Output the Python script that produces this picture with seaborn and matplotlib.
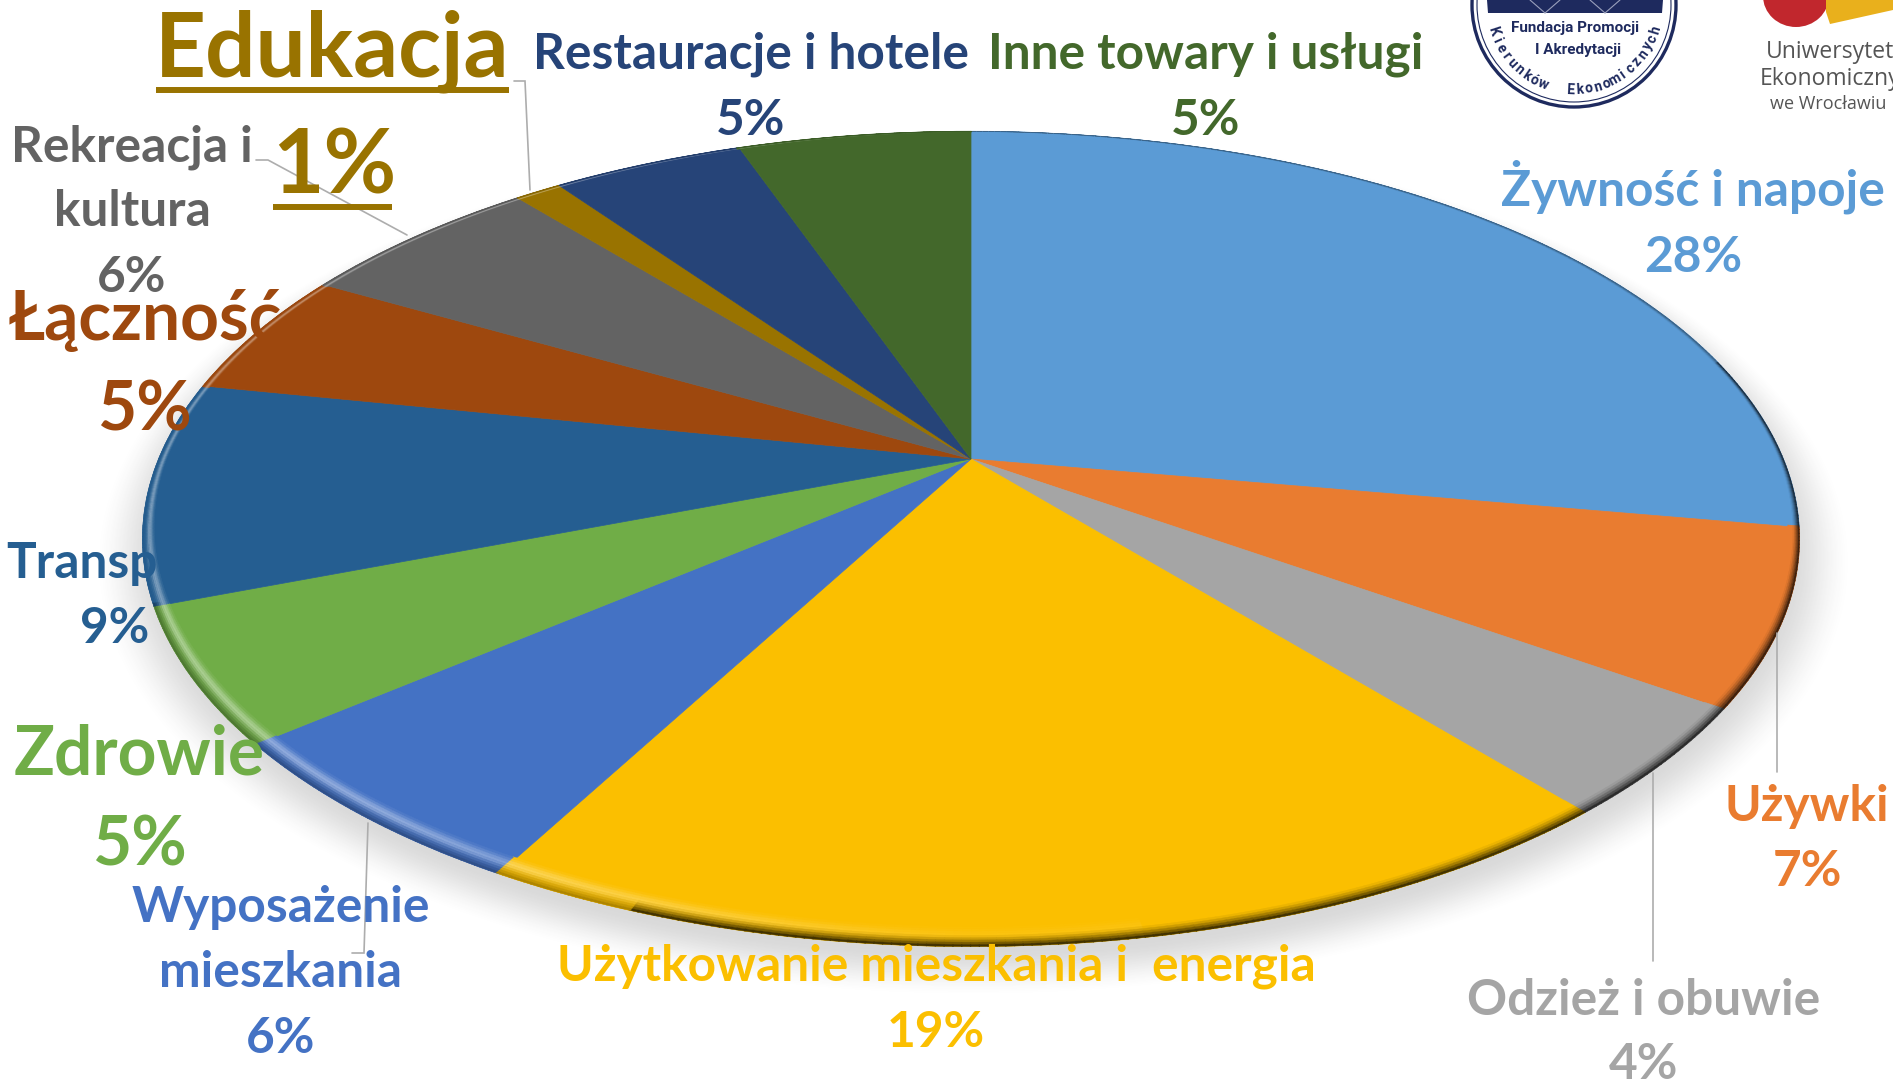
import numpy as np
import matplotlib
matplotlib.use("Agg")
import matplotlib.pyplot as plt
import matplotlib.transforms as mtransforms
from matplotlib.collections import PolyCollection
from matplotlib.patches import Circle, Polygon, Ellipse
import seaborn as sns

categories = ["Żywność i napoje", "Używki", "Odzież i obuwie", "Użytkowanie mieszkania i  energia",
              "Wyposażenie\nmieszkania", "Zdrowie", "Transport", "Łączność",
              "Rekreacja i\nkultura", "Edukacja", "Restauracje i hotele", "Inne towary i usługi"]
values = [27.7, 6.9, 4.3, 19.1, 6.0, 5.3, 8.8, 5.0, 5.8, 1.1, 4.51, 5.49]
colors = ["#5B9BD5", "#E97C30", "#A5A5A5", "#FBBF00", "#4472C4", "#70AD47",
          "#255E91", "#9E480E", "#636363", "#997300", "#264478", "#43682B"]
# Text centres per line, label then percentage, and size
label_lines = [
    [(1693, 188), (1693, 254)], [(1807, 803), (1807, 868)], [(1644, 997), (1644, 1061)],
    [(936, 963), (936, 1029)], [(281, 904), (281, 969), (281, 1035)], [(139, 750), (139, 841)],
    [(115, 560), (115, 625)], [(145, 316), (144, 406)], [(132, 144), (132, 208), (132, 274)],
    [(332, 44), (334, 161)], [(751, 51), (751, 117)], [(1206, 51), (1206, 117)],
]
label_sizes = [35.7, 35.7, 35.7, 35.7, 35.7, 48.7, 35.7, 48.7, 35.7, 64, 35.7, 35.7]

sns.set_theme(style="white")
plt.rcParams["font.family"] = ["Lato", "DejaVu Sans"]
palette = sns.color_palette(colors)

W, H = 1893, 1081
fig = plt.figure(figsize=(W / 100, H / 100), dpi=100, facecolor="white")
ax = fig.add_axes([0, 0, 1, 1])

CX, CY, A, B, K = 971.0, 459.0, 812.5, 392.0, 0.196


def project(u, v):
    d = 1 + K * v
    return CX + A * u / d, CY - B * v / d


class Perspective(mtransforms.Transform):
    input_dims = output_dims = 2

    def transform_non_affine(self, xy):
        xy = np.asarray(xy, float)
        x, y = project(xy[:, 0], xy[:, 1])
        return np.column_stack([x, y])


# Soft shadow under the disc
gx, gy = np.meshgrid(np.arange(0, W, 2.0), np.arange(0, H, 2.0))
tx = (gx - CX - 2) / A
ty = (CY + 14 - gy) / B
vv = ty / (1 - K * ty)
uu = tx * (1 + K * vv)
rr = np.hypot(uu, vv)
fade = np.clip((1.06 - rr) / 0.08, 0, 1)
fade = fade * fade * (3 - 2 * fade)
shadow = np.zeros(gx.shape + (4,))
shadow[..., :3] = 0.25
shadow[..., 3] = 0.2 * fade
ax.imshow(shadow, extent=(0, W, H, 0), aspect="auto", interpolation="bilinear", zorder=1)

wedges, _ = ax.pie(values, colors=palette, startangle=90, counterclock=False, radius=1.0,
                   center=(0, 0), normalize=True)
persp = Perspective() + ax.transData
for w, c in zip(wedges, palette):
    w.set_transform(persp)
    w.set_edgecolor(c)
    w.set_linewidth(0.5)
    w.set_zorder(2)
    w.set_clip_on(False)

# Bevelled rim of the disc
edges = np.cumsum(values) / np.sum(values) * 360
phis = np.linspace(0, 360, 721)
steps = 9
polys, cols = [], []
for p0, p1 in zip(phis[:-1], phis[1:]):
    mid = 0.5 * (p0 + p1)
    base = np.array(palette[min(np.searchsorted(edges, mid), len(values) - 1)])
    m = np.radians(mid)
    down = max(0.0, -np.cos(m))
    depth = 0.003 + 0.030 * down ** 1.2 + 0.007 * abs(np.sin(m))
    left = max(0.0, -np.sin(m))
    light = 0.4 * np.clip(left * 1.4 + 0.15 * down, 0, 1) if mid > 170 else 0.0
    if mid < 75:
        dark = 0.45
    elif mid < 200:
        dark = 0.85
    elif mid < 250:
        dark = 0.35
    elif mid < 300:
        dark = 0.04
    else:
        dark = 0.15
    for j in range(steps):
        s0, s1 = j / steps, (j + 1) / steps
        s = 0.5 * (s0 + s1)
        r0, r1 = 1 - depth * (1 - s0), 1 - depth * (1 - s1)
        a0, a1 = np.radians(p0), np.radians(p1 + 0.05)
        xa, ya = project(r0 * np.sin(a0), r0 * np.cos(a0))
        xb, yb = project(r0 * np.sin(a1), r0 * np.cos(a1))
        xc, yc = project(r1 * np.sin(a1), r1 * np.cos(a1))
        xd, yd = project(r1 * np.sin(a0), r1 * np.cos(a0))
        polys.append([(xa, ya), (xb, yb), (xc, yc), (xd, yd)])
        bump = np.exp(-((s - 0.4) / 0.25) ** 2)
        col = base + (1 - base) * light * bump
        col = col * (1 - dark * np.clip((s - 0.4) / 0.6, 0, 1) ** 1.5)
        cols.append(np.clip(col, 0, 1))
ax.add_collection(PolyCollection(polys, facecolors=cols, edgecolors=cols, linewidths=0.25, zorder=3))

# Leader lines
leader_col = "#ADADAD"
leaders = [
    [(514, 81), (525, 81), (530, 190)],
    [(256, 160), (268, 160), (407, 235)],
    [(368, 823), (364, 953), (352, 953)],
    [(1777, 633), (1777, 772)],
    [(1653, 773), (1653, 961)],
]
for pts in leaders:
    xs, ys = zip(*pts)
    ax.plot(xs, ys, color=leader_col, lw=1.2, zorder=4, solid_joinstyle="miter")

# Labels
for cat, val, col, pos, size in zip(categories, values, palette, label_lines, label_sizes):
    lines = cat.split("\n") + [f"{round(val)}%"]
    for line, (x, y) in zip(lines, pos):
        ax.text(x, y + size * 0.5, line, color=col, fontsize=size, fontweight="bold", ha="center",
                va="baseline", zorder=5, clip_on=False)

# Underlines of the highlighted slice
ax.plot([156, 509], [89.5, 89.5], color=palette[9], lw=4.3, solid_capstyle="butt", zorder=5)
ax.plot([273, 392], [207, 207], color=palette[9], lw=4.3, solid_capstyle="butt", zorder=5)

# Logo: accreditation foundation
navy = "#1E2A5E"
lc, ly, lr = 1574, 5, 102
ax.add_patch(Circle((lc, ly), lr, fc="white", ec=navy, lw=2.4, zorder=6))
ax.add_patch(Circle((lc, ly), lr - 5, fc="none", ec=navy, lw=0.8, zorder=6))
ax.add_patch(Polygon([(1487, 0), (1663, 0), (1662, 13), (1488, 13)], fc=navy, ec="none", zorder=6))
for x0, x1 in [(1530, 1545), (1560, 1545), (1590, 1605), (1620, 1605)]:
    ax.plot([x0, x1], [0, 13], color="#9AA0BC", lw=0.8, zorder=6)
ax.text(1575, 28, "Fundacja Promocji", color=navy, fontsize=11, fontweight="bold", ha="center",
        va="center", family="Roboto", zorder=7)
ax.text(1578, 50, "I Akredytacji", color=navy, fontsize=11, fontweight="bold", ha="center",
        va="center", family="Roboto", zorder=7)
ring_text = "Kierunków  Ekonomicznych"
ang = np.linspace(-72, 73, len(ring_text))
for ch, th in zip(ring_text, ang):
    t = np.radians(th)
    ax.text(lc + 85 * np.sin(t), ly + 85 * np.cos(t), ch, color=navy, fontsize=10,
            fontweight="bold", rotation=th, rotation_mode="anchor", ha="center", va="center",
            family="Roboto", zorder=7)

# Logo: university
ax.add_patch(Ellipse((1796, -4), 66, 62, fc="#C1272D", ec="none", zorder=6))
ax.add_patch(Polygon([(1826, 0), (1893, 0), (1893, 10), (1830, 24), (1826, 12)], fc="#E9B01C", ec="none", zorder=6))
for txt, x, y, fs in [("Uniwersytet", 1766, 52, 16.5), ("Ekonomiczny", 1760, 79, 16.5), ("we Wrocławiu", 1770, 104, 13)]:
    ax.text(x, y, txt, color="#555555", fontsize=fs, ha="left", va="center", family="Open Sans", zorder=7)

ax.set_aspect("auto")
ax.set_xlim(0, W)
ax.set_ylim(H, 0)
ax.axis("off")
fig.savefig("out.png", dpi=100, facecolor="white")
